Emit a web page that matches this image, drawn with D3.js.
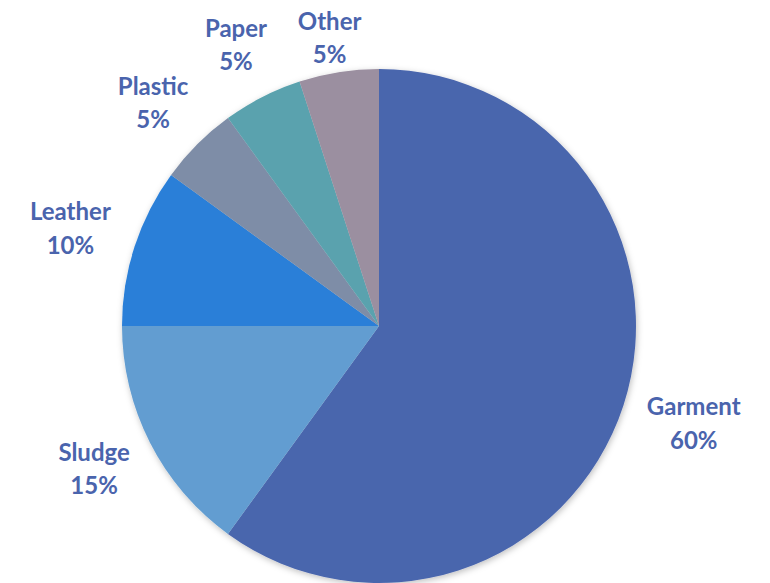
<!DOCTYPE html>
<html>
<head>
<meta charset="utf-8">
<script src="https://cdn.jsdelivr.net/npm/d3@7"></script>
<style>
  body { margin: 0; background: #fff; }
  svg { display: block; }
</style>
</head>
<body>
<svg id="chart" width="770" height="583"></svg>
<script>
// waste composition
var categories = ['Garment', 'Sludge', 'Leather', 'Plastic', 'Paper', 'Other'];
var shares = [60, 15, 10, 5, 5, 5];
var colors = ['#4a66ad', '#629dd1', '#2a7fd8', '#7e8da7', '#5aa2ae', '#9b8fa0'];

var width = 770, height = 583;
var cx = 379, cy = 326, radius = 257;
var labelGap = 27;

var svg = d3.select('#chart');

// soft shadow under the pie, like the office chart
var defs = svg.append('defs');
var filter = defs.append('filter').attr('id', 'shadow')
  .attr('x', '-10%').attr('y', '-10%').attr('width', '120%').attr('height', '120%');
filter.append('feDropShadow')
  .attr('dx', 1).attr('dy', 2).attr('stdDeviation', 3)
  .attr('flood-color', '#000').attr('flood-opacity', 0.25);

var data = categories.map(function(c, i) { return { name: c, value: shares[i], color: colors[i] }; });

var pie = d3.pie().sort(null).value(function(d) { return d.value; });
var arc = d3.arc().innerRadius(0).outerRadius(radius);

var g = svg.append('g').attr('transform', 'translate(' + cx + ',' + cy + ')');

g.append('g').attr('filter', 'url(#shadow)')
  .selectAll('path')
  .data(pie(data))
  .enter().append('path')
  .attr('d', arc)
  .attr('fill', function(d) { return d.data.color; });

var labels = g.selectAll('text.label')
  .data(pie(data))
  .enter().append('text')
  .attr('class', 'label')
  .attr('text-anchor', 'middle')
  .style('font-family', 'Lato, "Open Sans", sans-serif')
  .style('font-weight', 'bold')
  .style('font-size', '24px')
  .style('fill', '#4a64ad');

labels.append('tspan')
  .attr('x', 0).attr('dy', '-0.35em')
  .text(function(d) { return d.data.name; });
labels.append('tspan')
  .attr('x', 0).attr('dy', '1.4em')
  .text(function(d) { return d.data.value + '%'; });

// place each label box just outside the rim, along the slice's mid angle
labels.attr('transform', function(d) {
  var box = this.getBBox();
  var a = (d.startAngle + d.endAngle) / 2;
  var ux = Math.sin(a), uy = -Math.cos(a);
  var x = ux * (radius + labelGap) + ux * box.width / 2;
  var y = uy * (radius + labelGap) + uy * box.height / 2;
  // keep labels inside the top edge
  y = Math.max(y, 38 - cy);
  return 'translate(' + x + ',' + y + ')';
});
</script>
</body>
</html>
